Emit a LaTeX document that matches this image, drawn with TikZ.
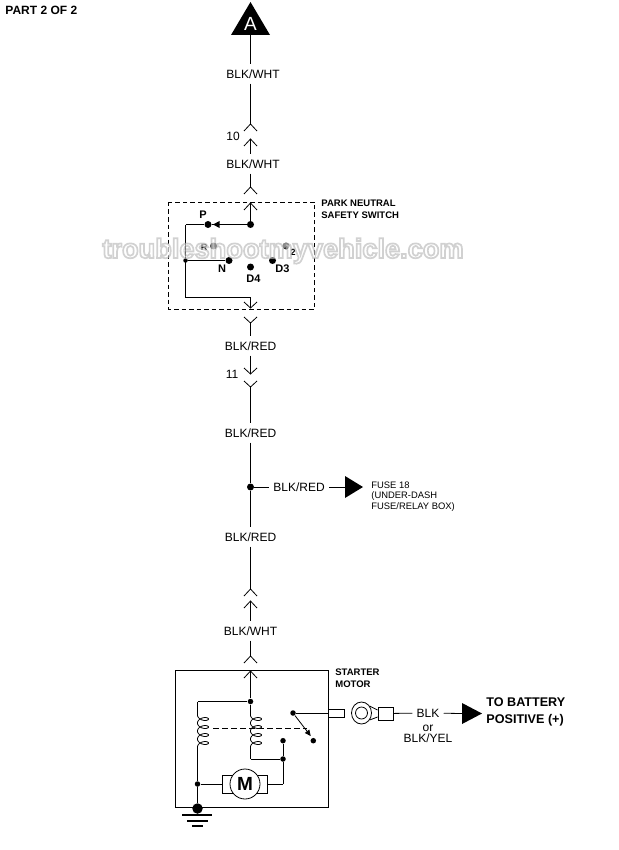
\documentclass[tikz,border=0pt]{standalone}
\usepackage{fontspec}
\setmainfont{Liberation Sans}
\usetikzlibrary{arrows.meta,calc,positioning,shapes.geometric}
\newcommand{\outlinetext}[1]{\special{pdf:code q 2 Tr 1.7 w 0.72 G 1 g}#1\special{pdf:code Q}}
\tikzset{
	wire/.style={line width=0.8pt},
	wirelabel/.style={font=\fontsize{12}{12}\selectfont, inner xsep=4pt, inner ysep=5pt, text height=8.5pt, text depth=0pt},
	pinlabel/.style={font=\fontsize{11}{11}\selectfont\bfseries, inner sep=0pt},
	blockname/.style={font=\fontsize{9.5}{12}\selectfont\bfseries, align=left, anchor=north west, inner sep=0pt},
	dot/.style={circle, fill=black, inner sep=0pt, minimum size=7pt},
	greydot/.style={circle, fill=black!80, inner sep=0pt, minimum size=7pt},
	smalldot/.style={circle, fill=black, inner sep=0pt, minimum size=5.5pt},
	upchev/.pic={\draw[wire] (-6.5,7) -- (0,0) -- (6.5,7);},
	downchev/.pic={\draw[wire] (-6.5,-6) -- (0,0) -- (6.5,-6);},
	coil/.pic={\draw[wire] plot[domain=0:1440, samples=145, smooth] ({5.5-5.5*cos(\x)}, {\x/45+3.2*sin(\x)});}
}
\begin{document}
\begin{tikzpicture}[x=1pt, y=-1pt, wire]
	\useasboundingbox (0,0) rectangle (618,850);

	\node[font=\fontsize{12}{12}\selectfont\bfseries, anchor=west, inner sep=0pt] (part) at (5,10) {PART 2 OF 2};

	% top of the run
	\fill (250.5,2) -- (231,35) -- (270,35) -- cycle;
	\coordinate (triA) at (250.5,35);
	\node[text=white, font=\fontsize{19}{19}\selectfont, inner sep=0pt] (letterA) at (250.5,23.5) {A};
	\node[wirelabel] (wht1) at (253,74) {BLK/WHT};
	\coordinate (c10top) at (250.5,124);
	\coordinate (c10bot) at (250.5,139);
	\node[wirelabel] (wht2) at (253,164) {BLK/WHT};
	\coordinate (csw1) at (250.5,187);
	\coordinate (csw2) at (250.5,203);
	\node[wirelabel, inner sep=0pt] (n10) at (233,136) {10};

	\path
	(triA) edge (triA |- wht1.north)
	(triA |- wht1.south) edge (c10top)
	(c10bot) edge (c10bot |- wht2.north)
	(c10bot |- wht2.south) edge (csw1)
	;
	\pic at (c10top) {upchev};
	\pic at (c10bot) {upchev};
	\pic at (csw1) {upchev};
	\pic at (csw2) {upchev};

	% park neutral switch
	\draw[dashed, dash pattern=on 4.5pt off 3pt] (168.5,202) rectangle (314.5,309);
	\node[blockname] (swname) at (321,199.5) {PARK NEUTRAL\\SAFETY SWITCH};
	\node[dot] (swin) at (250.5,224.5) {};
	\node[dot] (pinP) at (208,224.5) {};
	\node[greydot] (pinR) at (213.5,246) {};
	\node[greydot] (pin2) at (286,246) {};
	\node[dot] (pinN) at (229,260.5) {};
	\node[dot] (pinD4) at (250.5,267) {};
	\node[dot] (pinD3) at (272.5,260.5) {};
	\node[dot, minimum size=4.5pt] (swjoin) at (185.5,260.5) {};
	\coordinate (swleft) at (185.5,224.5);
	\coordinate (swlow) at (185.5,297.5);
	\coordinate (swout) at (250.5,297.5);
	\coordinate (cout1) at (250.5,308);
	\coordinate (cout2) at (250.5,323);
	\node[pinlabel] (lblP) at (203,215) {P};
	\node[pinlabel, font=\fontsize{9}{9}\selectfont\bfseries] (lblR) at (204,247) {R};
	\node[pinlabel, font=\fontsize{9}{9}\selectfont\bfseries] (lbl2) at (293,252) {2};
	\node[pinlabel] (lblN) at (222,269) {N};
	\node[pinlabel] (lblD4) at (253.5,279) {D4};
	\node[pinlabel] (lblD3) at (282.5,269) {D3};
	\fill (213,224.5) -- (219.5,221) -- (219.5,228) -- cycle;

	\path
	(csw2) edge (swin)
	(swin) edge (pinP)
	(pinP) edge (swleft)
	(swleft) edge (swlow)
	(swjoin) edge (pinN)
	(swlow) edge (swout)
	(swout) edge (cout1)
	;
	\pic at (cout1) {downchev};
	\pic at (cout2) {downchev};

	% middle of the run
	\node[wirelabel] (red1) at (250.5,346) {BLK/RED};
	\coordinate (c11top) at (250.5,374);
	\coordinate (c11bot) at (250.5,387);
	\node[wirelabel, inner sep=0pt] (n11) at (232,374) {11};
	\node[wirelabel] (red2) at (250.5,433) {BLK/RED};
	\node[dot] (fusejoin) at (250.5,487) {};
	\node[wirelabel] (red3) at (299,487) {BLK/RED};
	\coordinate (fusetri) at (345,487);
	\fill (345,476) -- (363,487) -- (345,498) -- cycle;
	\node[blockname, font=\fontsize{9.4}{10.6}\selectfont, anchor=west] (fusename) at (371,496.5) {FUSE 18\\(UNDER-DASH\\FUSE/RELAY BOX)};
	\node[wirelabel] (red4) at (250.5,537) {BLK/RED};
	\coordinate (c4top) at (250.5,589);
	\coordinate (c4bot) at (250.5,601);
	\node[wirelabel] (wht3) at (250.5,631) {BLK/WHT};
	\coordinate (cst1) at (250.5,656);
	\coordinate (cst2) at (250.5,671);

	\path
	(cout2) edge (red1)
	(red1) edge (c11top)
	(c11bot) edge (red2)
	(red2) edge (fusejoin)
	(fusejoin) edge (red3)
	(red3) edge (fusetri)
	(fusejoin) edge (red4)
	(red4) edge (c4top)
	(c4bot) edge (wht3)
	(wht3) edge (cst1)
	;
	\pic at (c11top) {downchev};
	\pic at (c11bot) {downchev};
	\pic at (c4top) {upchev};
	\pic at (c4bot) {upchev};
	\pic at (cst1) {upchev};
	\pic at (cst2) {upchev};

	% starter motor
	\draw (175.5,670) rectangle (328,807);
	\node[blockname] (stname) at (335,668.5) {STARTER\\MOTOR};
	\node[smalldot] (stjoin) at (250.5,701.5) {};
	\coordinate (stleft) at (197.5,701.5);
	\coordinate (coilLtop) at (197.5,715);
	\coordinate (coilLbot) at (197.5,747);
	\coordinate (coilRtop) at (250.5,715);
	\coordinate (coilRbot) at (250.5,747);
	\pic at (coilLtop) {coil};
	\pic at (coilRtop) {coil};
	\coordinate (stlow) at (250.5,759);
	\node[smalldot] (mjoin) at (283,759) {};
	\node[smalldot] (contact) at (283,740.7) {};
	\coordinate (mright) at (283,784);
	\node[smalldot] (gjoin) at (197.5,784) {};
	\node[draw, minimum width=45.7pt, minimum height=18pt, inner sep=0pt] (mbody) at (245,784) {};
	\node[draw, circle, fill=white, minimum size=30pt, inner sep=0pt, font=\fontsize{19}{19}\selectfont\bfseries] (motor) at (245,784) {M};
	\node[circle, fill=black, inner sep=0pt, minimum size=10.5pt] (gnd) at (197.5,808.5) {};
	\draw[line width=1.3pt] (182,815) -- (212,815) (187,821) -- (208,821) (192,826) -- (203,826);
	\node[smalldot] (swpiv) at (293,713) {};
	\node[smalldot] (swend) at (313.3,740.7) {};
	\coordinate (swtip) at (310.7,736);
	\draw[dashed, dash pattern=on 5.5pt off 3.5pt] (213,728.7) -- (307,728.7);
	\draw[-{Triangle[length=6pt,width=5.5pt]}] (swpiv) -- (swtip);

	\path
	(cst2) edge (stjoin)
	(stjoin) edge (coilRtop)
	(stjoin) edge (stleft)
	(stleft) edge (coilLtop)
	(coilLbot) edge (gjoin)
	(gjoin) edge (gnd)
	(coilRbot) edge (stlow)
	(stlow) edge (mjoin)
	(contact) edge (mjoin)
	(mjoin) edge (mright)
	(mright) edge (mbody.east |- mright)
	(gjoin) edge (mbody)
	;

	% battery feed
	\node[draw, minimum width=16pt, minimum height=8pt, inner sep=0pt] (stud) at (336,713) {};
	\draw (swpiv) -- (stud);
	\node[draw, ellipse, minimum width=20pt, minimum height=22pt, inner sep=0pt] (ring) at (361.5,713) {};
	\node[draw, circle, minimum size=12pt, inner sep=0pt] (ringhole) at (361.5,713) {};
	\node[draw, minimum width=15pt, minimum height=13pt, inner sep=0pt] (crimp) at (385.5,713.5) {};
	\draw (ring.40) -- ($(crimp.west)+(0,-3.5)$) (ring.-40) -- ($(crimp.west)+(0,3.5)$);
	\node[wirelabel] (blk) at (428,713) {BLK};
	\node[wirelabel, inner sep=0pt] (blkor) at (428,727) {or};
	\node[wirelabel, inner sep=0pt] (blkyel) at (428,738.5) {BLK/YEL};
	\coordinate (battri) at (462,713.5);
	\fill (462,703) -- (482,713.5) -- (462,724) -- cycle;
	\node[font=\fontsize{12.6}{17}\selectfont\bfseries, align=left, anchor=west, inner sep=0pt] (batname) at (486,712) {TO BATTERY\\POSITIVE (+)};

	\path
	(crimp) edge (blk)
	(blk) edge (battri)
	;

	% site mark over the top
	\begin{scope}[transparency group, opacity=0.65]
		\node[font=\fontsize{27.2}{28}\selectfont\bfseries, inner sep=0pt] (sitemark) at (283,251) {\outlinetext{troubleshootmyvehicle.com}};
	\end{scope}
\end{tikzpicture}
\end{document}
